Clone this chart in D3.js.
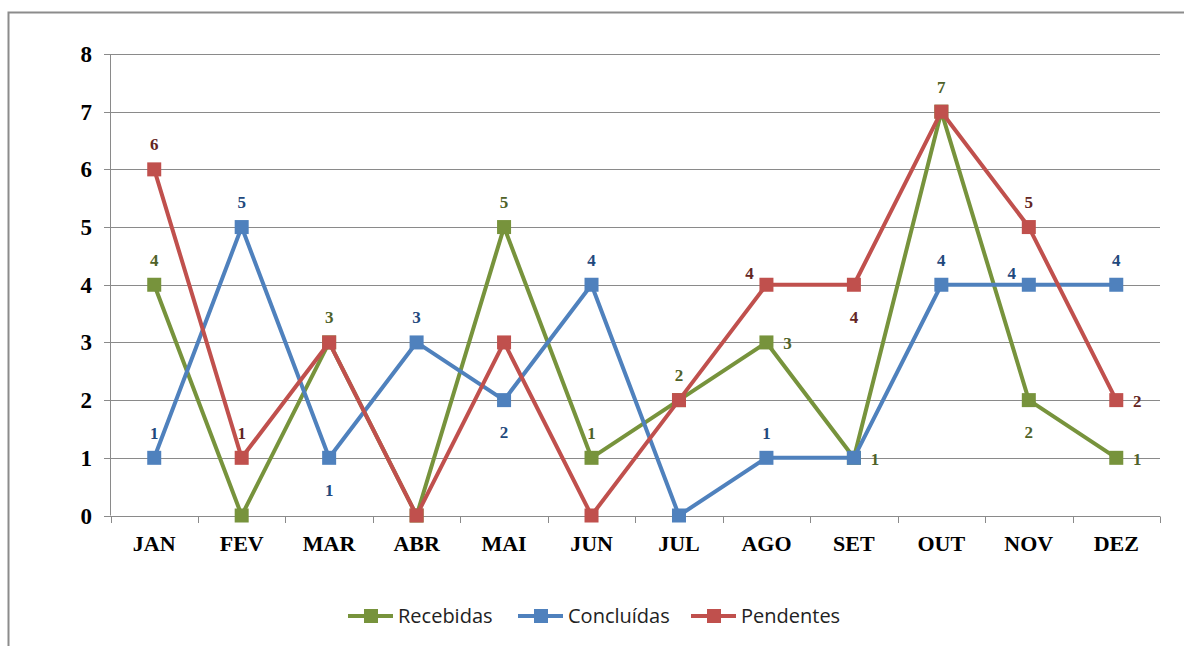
<!DOCTYPE html>
<html>
<head>
<meta charset="utf-8">
<script src="https://cdn.jsdelivr.net/npm/d3@7"></script>
<style>
  html, body { margin: 0; padding: 0; background: #fff; }
  svg { display: block; }
</style>
</head>
<body>
<svg id="chart" width="1184" height="646"></svg>
<script>
// Monthly counts per status
const months = ["JAN", "FEV", "MAR", "ABR", "MAI", "JUN", "JUL", "AGO", "SET", "OUT", "NOV", "DEZ"];
const recebidas  = [4, 0, 3, 0, 5, 1, 2, 3, 1, 7, 2, 1];
const concluidas = [1, 5, 1, 3, 2, 4, 0, 1, 1, 4, 4, 4];
const pendentes  = [6, 1, 3, 0, 3, 0, 2, 4, 4, 7, 5, 2];
const yTicks = [0, 1, 2, 3, 4, 5, 6, 7, 8];

// Where each point's value label sits: t = above, b = below, r = right, tl = upper left, n = no label
const recebidasLabelPos  = ["t", "n", "t", "n", "t", "t", "t", "r", "r", "t", "b", "r"];
const concluidasLabelPos = ["t", "t", "b", "t", "b", "t", "n", "t", "n", "t", "tl", "t"];
const pendentesLabelPos  = ["t", "t", "n", "n", "n", "n", "n", "tl", "b", "n", "t", "r"];

const series = [
  { name: "Recebidas",  values: recebidas,  pos: recebidasLabelPos,  color: "#77933C", labelColor: "#4F6228" },
  { name: "Concluídas", values: concluidas, pos: concluidasLabelPos, color: "#4F81BD", labelColor: "#1F497D" },
  { name: "Pendentes",  values: pendentes,  pos: pendentesLabelPos,  color: "#C0504D", labelColor: "#632523" }
];

const svg = d3.select("#chart");

// Outer chart frame
svg.append("rect")
  .attr("x", 8.5).attr("y", 12.5)
  .attr("width", 1200).attr("height", 700)
  .attr("fill", "none").attr("stroke", "#8c8c8c").attr("stroke-width", 2);

const x = d3.scaleBand().domain(months).range([110.5, 1160]).paddingInner(0).paddingOuter(0);
const y = d3.scaleLinear().domain([0, 8]).range([515.5, 54]);

const serif = "'Liberation Serif', 'Times New Roman', serif";

// Horizontal gridlines with short outward ticks
svg.append("g")
  .selectAll("line")
  .data(yTicks)
  .join("line")
  .attr("x1", 104).attr("x2", 1160)
  .attr("y1", d => Math.round(y(d)) + 0.5).attr("y2", d => Math.round(y(d)) + 0.5)
  .attr("stroke", "#8a8a8a").attr("stroke-width", 1);

// Vertical axis line
svg.append("line")
  .attr("x1", 110.5).attr("x2", 110.5)
  .attr("y1", y(8)).attr("y2", y(0))
  .attr("stroke", "#8a8a8a");

// Category axis with ticks on band boundaries
const xAxis = svg.append("g");
const boundaries = months.map(m => x(m)).concat([x.range()[1]]);
xAxis.selectAll("line.tick")
  .data(boundaries)
  .join("line")
  .attr("class", "tick")
  .attr("x1", d => Math.round(d) + 0.5).attr("x2", d => Math.round(d) + 0.5)
  .attr("y1", Math.round(y(0)) + 0.5).attr("y2", Math.round(y(0)) + 7)
  .attr("stroke", "#8a8a8a");

xAxis.selectAll("text")
  .data(months)
  .join("text")
  .attr("x", d => x(d) + x.bandwidth() / 2)
  .attr("y", 551)
  .attr("text-anchor", "middle")
  .attr("font-family", serif)
  .attr("font-weight", "bold")
  .attr("font-size", 22)
  .attr("fill", "#000")
  .text(d => d);

// Value-axis labels
svg.append("g")
  .selectAll("text")
  .data(yTicks)
  .join("text")
  .attr("x", 92)
  .attr("y", d => y(d) + 8)
  .attr("text-anchor", "end")
  .attr("font-family", serif)
  .attr("font-weight", "bold")
  .attr("font-size", 23)
  .attr("fill", "#000")
  .text(d => d);

const cx = m => x(m) + x.bandwidth() / 2;
const line = d3.line().x((d, i) => cx(months[i])).y(d => y(d));

// Lines and markers, one group per series
series.forEach(s => {
  const g = svg.append("g");
  g.append("path")
    .datum(s.values)
    .attr("d", line)
    .attr("fill", "none")
    .attr("stroke", s.color)
    .attr("stroke-width", 4)
    .attr("stroke-linejoin", "round");
  g.selectAll("rect")
    .data(s.values)
    .join("rect")
    .attr("x", (d, i) => cx(months[i]) - 7)
    .attr("y", d => y(d) - 7)
    .attr("width", 14).attr("height", 14)
    .attr("fill", s.color);
});

// Value labels
const offsets = {
  t:  { dx: 0,   dy: -25 },
  b:  { dx: 0,   dy: 32 },
  r:  { dx: 21,  dy: 1 },
  tl: { dx: -17, dy: -12 }
};
series.forEach(s => {
  svg.append("g")
    .selectAll("text")
    .data(s.values.map((v, i) => ({ v, i, p: s.pos[i] })).filter(d => d.p !== "n"))
    .join("text")
    .attr("x", d => cx(months[d.i]) + offsets[d.p].dx)
    .attr("y", d => y(d.v) + offsets[d.p].dy + 6)
    .attr("text-anchor", "middle")
    .attr("font-family", serif)
    .attr("font-weight", "bold")
    .attr("font-size", 17)
    .attr("fill", s.labelColor)
    .text(d => d.v);
});

// Legend
const legendItems = [
  { s: series[0], x0: 348 },
  { s: series[1], x0: 518 },
  { s: series[2], x0: 691 }
];
const legend = svg.append("g");
legendItems.forEach(it => {
  const g = legend.append("g").attr("transform", `translate(${it.x0},616)`);
  g.append("line").attr("x1", 0).attr("x2", 45).attr("y1", 0).attr("y2", 0)
    .attr("stroke", it.s.color).attr("stroke-width", 4);
  g.append("rect").attr("x", 16).attr("y", -7).attr("width", 14).attr("height", 14)
    .attr("fill", it.s.color);
  g.append("text").attr("x", 50).attr("y", 7)
    .attr("font-family", "'Open Sans', 'Liberation Sans', sans-serif")
    .attr("font-size", 20)
    .attr("fill", "#222")
    .text(it.s.name);
});
</script>
</body>
</html>
